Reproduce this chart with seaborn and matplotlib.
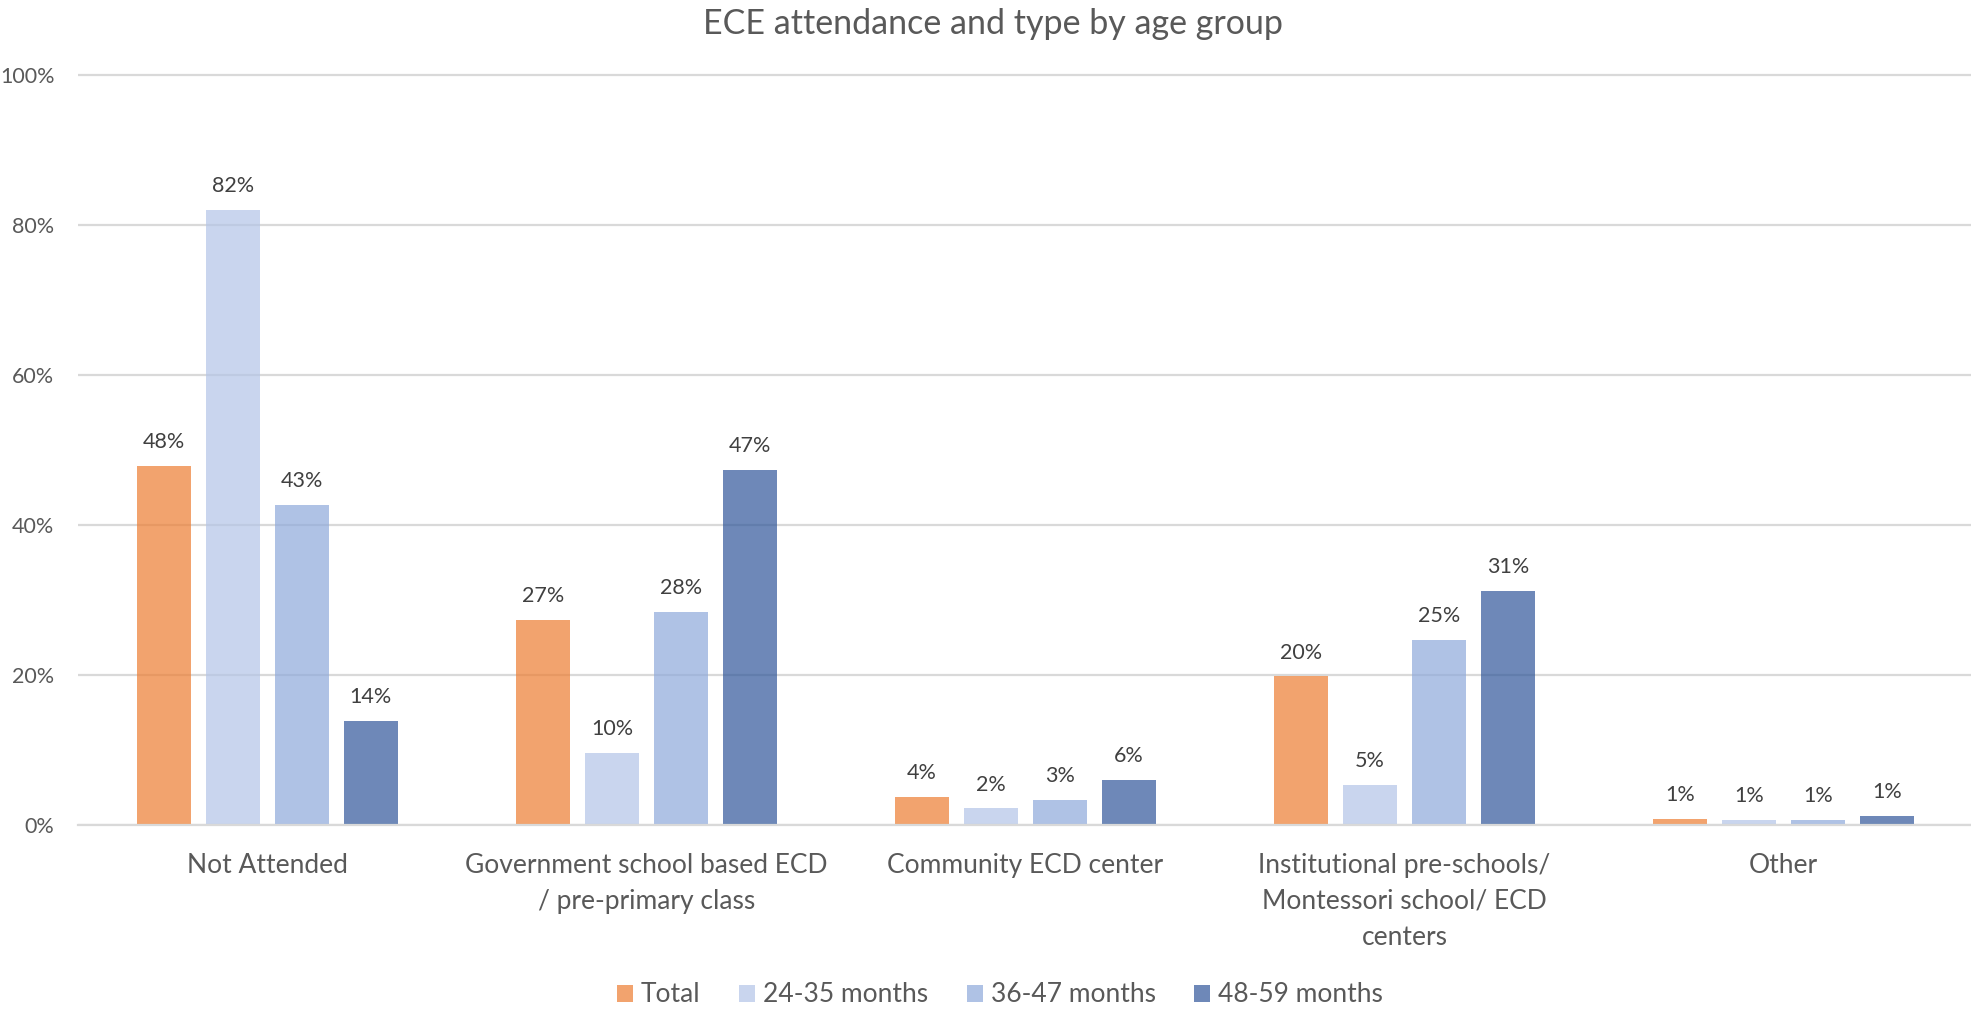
import matplotlib
matplotlib.use("Agg")
import matplotlib.pyplot as plt
import pandas as pd
import seaborn as sns
from matplotlib.ticker import FuncFormatter

# ---- data -------------------------------------------------------------
categories = [
    "Not Attended",
    "Government school based ECD\n/ pre-primary class",
    "Community ECD center",
    "Institutional pre-schools/\nMontessori school/ ECD\ncenters",
    "Other",
]
groups = ["Total", "24-35 months", "36-47 months", "48-59 months"]

total = [47.9, 27.3, 3.7, 19.8, 0.85]
m24_35 = [82.0, 9.6, 2.2, 5.3, 0.65]
m36_47 = [42.7, 28.4, 3.3, 24.6, 0.65]
m48_59 = [13.9, 47.3, 6.0, 31.2, 1.2]

y_ticks = [0, 20, 40, 60, 80, 100]
title = "ECE attendance and type by age group"

colors = ["#ED7D31", "#B3C4E7", "#8EA9DB", "#30569A"]

# ---- long-form table --------------------------------------------------
series = [total, m24_35, m36_47, m48_59]
rows = []
for g, vals in zip(groups, series):
    for c, v in zip(categories, vals):
        rows.append({"category": c, "group": g, "value": v})
df = pd.DataFrame(rows)

# ---- figure -----------------------------------------------------------
sns.set_theme(style="white")
plt.rcParams["font.family"] = ["Lato", "DejaVu Sans"]
text_color = "#595959"
grid_color = "#D9D9D9"

fig = plt.figure(figsize=(19.71, 10.09), dpi=100)
ax = fig.add_axes([78 / 1971, (1009 - 825) / 1009, (1973 - 78) / 1971, (825 - 73) / 1009])

ax.set_axisbelow(True)
ax.yaxis.grid(True, color=grid_color, linewidth=1.6)
ax.xaxis.grid(False)

sns.barplot(
    data=df, x="category", y="value", hue="group",
    order=categories, hue_order=groups, palette=colors,
    saturation=1, alpha=0.7, width=0.727, gap=0.217,
    linewidth=0, ax=ax,
)

for cont in ax.containers:
    vals = [b.get_height() for b in cont]
    ax.bar_label(cont, labels=[f"{v:.0f}%" for v in vals], padding=10,
                 fontsize=15.5, color="#404040")

ax.set_ylim(0, 100.2)
ax.set_yticks(y_ticks)
ax.yaxis.set_major_formatter(FuncFormatter(lambda v, p: f"{v:.0f}%"))
ax.tick_params(axis="y", length=0, pad=17, labelsize=15.5, labelcolor=text_color)
ax.tick_params(axis="x", length=0, pad=20, labelsize=19, labelcolor=text_color)
for lbl in ax.get_xticklabels():
    lbl.set_linespacing(1.55)
ax.set_xlabel("")
ax.set_ylabel("")
for side in ["top", "right", "left"]:
    ax.spines[side].set_visible(False)
ax.spines["bottom"].set_color(grid_color)
ax.spines["bottom"].set_linewidth(1.6)

sns.move_legend(
    ax, "center", bbox_to_anchor=(1000 / 1971, 1 - 995 / 1009),
    bbox_transform=fig.transFigure, ncol=4, frameon=False, title=None,
    fontsize=19, handlelength=0.62, handleheight=0.62,
    handletextpad=0.3, columnspacing=1.45, labelcolor=text_color,
)

fig.text(0.504, 1 - 24 / 1009, title, ha="center", va="center",
         fontsize=24.5, color=text_color)

fig.savefig("out.png", dpi=100, facecolor="white")
